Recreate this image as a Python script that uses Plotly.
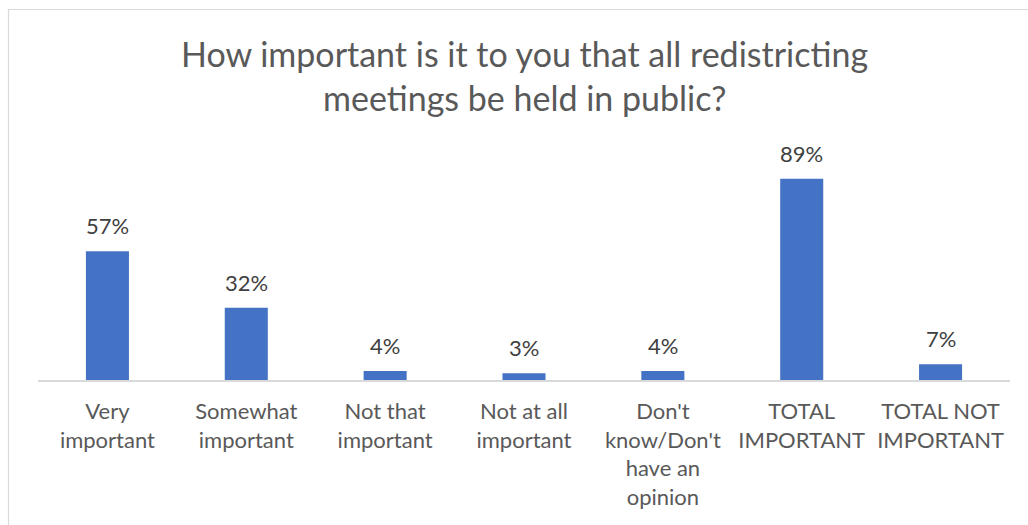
import plotly.graph_objects as go

# Survey responses: share of respondents per answer
categories = [
    "Very<br>important",
    "Somewhat<br>important",
    "Not that<br>important",
    "Not at all<br>important",
    "Don't<br>know/Don't<br>have an<br>opinion",
    "TOTAL<br>IMPORTANT",
    "TOTAL NOT<br>IMPORTANT",
]
values = [57, 32, 4, 3, 4, 89, 7]
value_labels = [f"{v}%" for v in values]

title_lines = [
    "How important is it to you that all redistricting",
    "meetings be held in public?",
]

FONT = "Lato"
BAR_COLOR = "#4472C4"
TEXT_GRAY = "#595959"
LABEL_GRAY = "#404040"
RULE_GRAY = "#D9D9D9"

W, H = 1028, 525
L, R, T, B = 38, 18, 154, 145
plot_h = H - T - B
plot_w = W - L - R


def py(pixel_y):
    """Convert a pixel row (from the top) into paper y coordinates."""
    return (H - B - pixel_y) / plot_h


def px(pixel_x):
    """Convert a pixel column (from the left) into paper x coordinates."""
    return (pixel_x - L) / plot_w


fig = go.Figure(
    go.Bar(
        x=categories,
        y=values,
        marker=dict(color=BAR_COLOR, line=dict(width=0)),
        width=0.31,
        hoverinfo="skip",
    )
)

# value labels above each bar
annotations = [
    dict(
        x=c, y=v, xref="x", yref="y", text=t, showarrow=False,
        yanchor="bottom", yshift=10,
        font=dict(family=FONT, size=22, color=LABEL_GRAY),
    )
    for c, v, t in zip(categories, values, value_labels)
]

# two-line chart title, baselines 44 px apart
for i, line in enumerate(title_lines):
    annotations.append(
        dict(
            x=0.5, xref="paper", y=py(64 + 44 * i + 12), yref="paper",
            yanchor="bottom", text=line, showarrow=False,
            font=dict(family=FONT, size=34, color=TEXT_GRAY),
        )
    )

fig.update_layout(
    width=W,
    height=H,
    margin=dict(l=L, r=R, t=T, b=B, autoexpand=False),
    paper_bgcolor="white",
    plot_bgcolor="white",
    showlegend=False,
    font=dict(family=FONT, color=TEXT_GRAY),
    annotations=annotations,
    xaxis=dict(
        automargin=False,
        showgrid=False,
        zeroline=False,
        showline=True,
        linecolor=RULE_GRAY,
        linewidth=1.5,
        ticks="outside",
        ticklen=11,
        tickcolor="rgba(0,0,0,0)",
        tickfont=dict(family=FONT, size=22, color=TEXT_GRAY),
        fixedrange=True,
    ),
    yaxis=dict(
        range=[0, 100],
        visible=False,
        automargin=False,
        fixedrange=True,
    ),
    shapes=[
        dict(
            type="rect", xref="paper", yref="paper",
            x0=px(8.5), x1=px(1040), y0=py(540), y1=py(9.5),
            line=dict(color=RULE_GRAY, width=1.2),
            fillcolor="rgba(0,0,0,0)", layer="below",
        )
    ],
)

fig.write_html("out.html")
